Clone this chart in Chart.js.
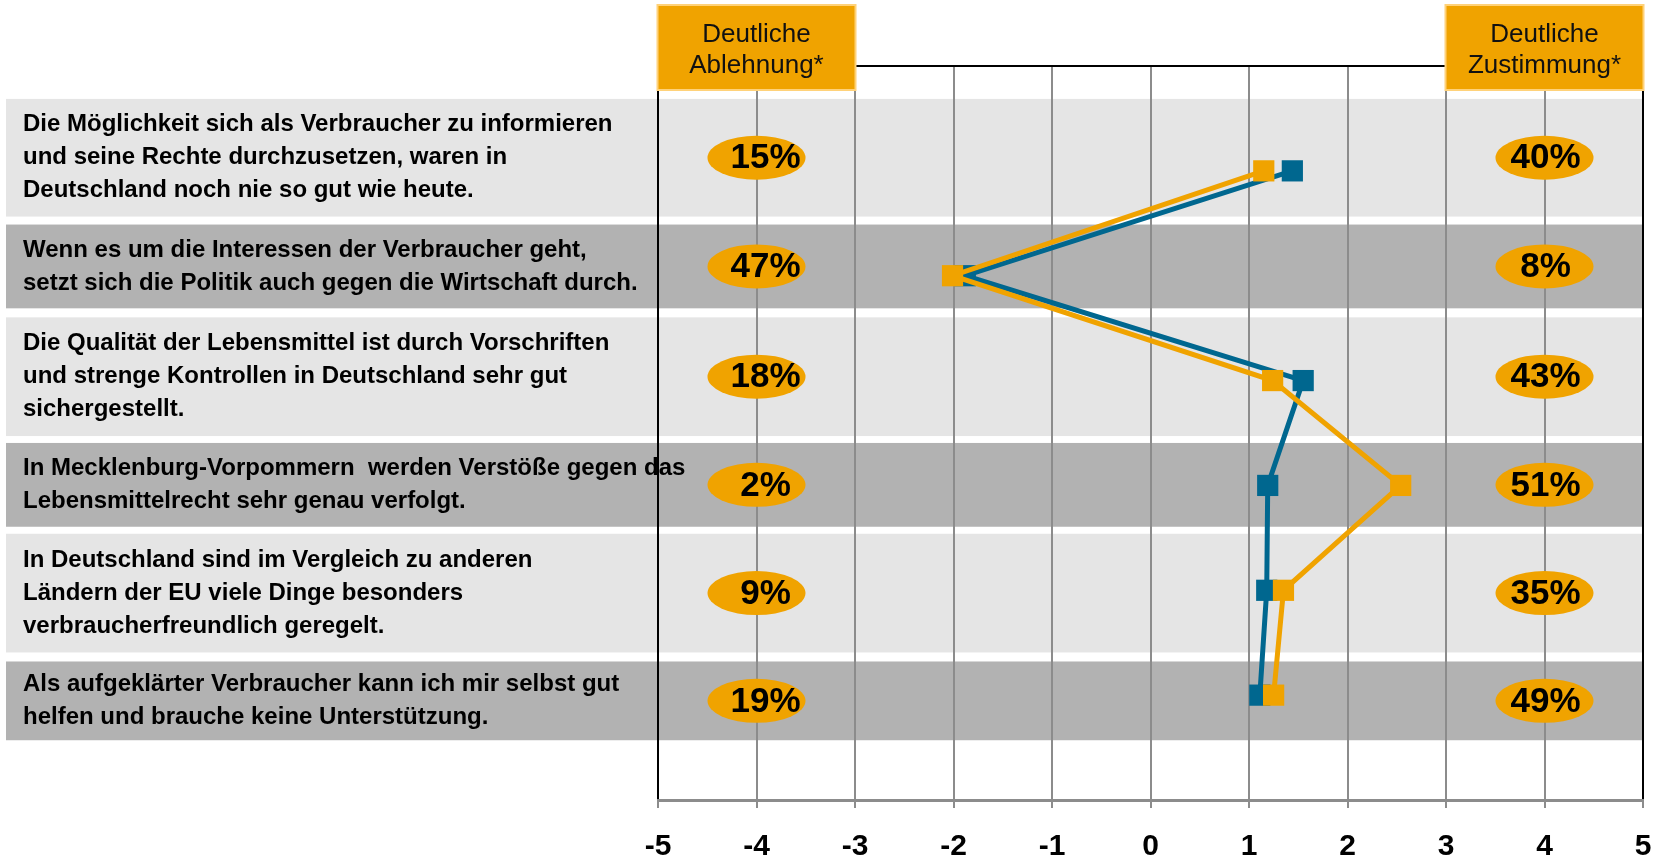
<!DOCTYPE html>
<html>
<head>
<meta charset="utf-8">
<script src="https://cdn.jsdelivr.net/npm/chart.js@4.4.1/dist/chart.umd.min.js"></script>
<style>
  html, body { margin: 0; padding: 0; background: #ffffff; }
  #wrap { width: 1662px; height: 861px; position: relative; }
</style>
</head>
<body>
<div id="wrap"><canvas id="c" width="1662" height="861"></canvas></div>
<script>
// Statements (one entry per row, split into the printed lines)
const statements = [
  ["Die Möglichkeit sich als Verbraucher zu informieren", "und seine Rechte durchzusetzen, waren in", "Deutschland noch nie so gut wie heute."],
  ["Wenn es um die Interessen der Verbraucher geht,", "setzt sich die Politik auch gegen die Wirtschaft durch."],
  ["Die Qualität der Lebensmittel ist durch Vorschriften", "und strenge Kontrollen in Deutschland sehr gut", "sichergestellt."],
  ["In Mecklenburg-Vorpommern  werden Verstöße gegen das", "Lebensmittelrecht sehr genau verfolgt."],
  ["In Deutschland sind im Vergleich zu anderen", "Ländern der EU viele Dinge besonders", "verbraucherfreundlich geregelt."],
  ["Als aufgeklärter Verbraucher kann ich mir selbst gut", "helfen und brauche keine Unterstützung."]
];

// Mean scores on the -5 .. 5 scale
const meanBlue   = [1.44, -1.88, 1.55, 1.19, 1.18, 1.11];
const meanOrange = [1.15, -2.01, 1.24, 2.54, 1.35, 1.25];

// Share of clear rejection / clear agreement (percent)
const rejectShare = [15, 47, 18, 2, 9, 19];
const agreeShare  = [40, 8, 43, 51, 35, 49];

// Axis ticks and the two column headers
const xTickValues = [-5, -4, -3, -2, -1, 0, 1, 2, 3, 4, 5];
const headerReject = ["Deutliche", "Ablehnung*"];
const headerAgree  = ["Deutliche", "Zustimmung*"];

// Layout: row band extents in y-scale units, header/bubble anchors on the x scale
const bandEdges = [[-0.686, 0.436], [0.512, 1.311], [1.397, 2.529], [2.595, 3.394], [3.461, 4.593], [4.679, 5.430]];
const rejectColumnX = -4;
const agreeColumnX = 4;

const FONT = '"Liberation Sans", Arial, Helvetica, sans-serif';
const BLUE = '#00678f';
const ORANGE = '#f0a300';

const rowDecor = {
  id: 'rowDecor',
  beforeDraw(chart) {
    const { ctx, chartArea, scales } = chart;
    const ys = scales.y;
    ctx.save();
    bandEdges.forEach((e, i) => {
      const top = ys.getPixelForValue(e[0]);
      const bot = ys.getPixelForValue(e[1]);
      ctx.fillStyle = i % 2 === 0 ? '#e5e5e5' : '#b2b2b2';
      ctx.fillRect(6, top, chartArea.right - 6, bot - top);
      // statement text
      ctx.fillStyle = '#000';
      ctx.font = 'bold 24px ' + FONT;
      ctx.textBaseline = 'middle';
      ctx.textAlign = 'left';
      const lines = statements[i];
      const lh = 33;
      const mid = (top + bot) / 2;
      lines.forEach((t, k) => {
        const y = mid + (k - (lines.length - 1) / 2) * lh;
        ctx.fillText(t, 23, y);
      });
    });
    ctx.restore();
  },
  afterDatasetsDraw(chart) {
    const { ctx, scales } = chart;
    const xs = scales.x, ys = scales.y;
    ctx.save();
    bandEdges.forEach((e, i) => {
      const cy = ys.getPixelForValue((e[0] + e[1]) / 2);
      [[rejectColumnX, rejectShare[i], 9], [agreeColumnX, agreeShare[i], 1]].forEach(([xv, pct, dx]) => {
        const cx = xs.getPixelForValue(xv);
        ctx.beginPath();
        ctx.ellipse(cx, cy, 49, 22, 0, 0, Math.PI * 2);
        ctx.fillStyle = ORANGE;
        ctx.fill();
        ctx.fillStyle = '#000';
        ctx.font = 'bold 35px ' + FONT;
        ctx.textAlign = 'center';
        ctx.textBaseline = 'middle';
        ctx.fillText(pct + '%', cx + dx, cy + 1);
      });
    });
    ctx.restore();
  },
  afterDraw(chart) {
    const { ctx, chartArea, scales } = chart;
    const xs = scales.x;
    ctx.save();
    // top frame line
    ctx.strokeStyle = '#000';
    ctx.lineWidth = 2;
    ctx.beginPath();
    ctx.moveTo(chartArea.left, chartArea.top);
    ctx.lineTo(chartArea.right, chartArea.top);
    ctx.stroke();
    // column headers
    [[rejectColumnX, headerReject], [agreeColumnX, headerAgree]].forEach(([xv, lines]) => {
      const cx = xs.getPixelForValue(xv);
      const w = 198, top = 5, h = 85;
      ctx.fillStyle = ORANGE;
      ctx.fillRect(cx - w / 2, top, w, h);
      ctx.strokeStyle = '#ffd27a';
      ctx.lineWidth = 2;
      ctx.strokeRect(cx - w / 2, top, w, h);
      ctx.fillStyle = '#111';
      ctx.font = '26px ' + FONT;
      ctx.textAlign = 'center';
      ctx.textBaseline = 'middle';
      ctx.fillText(lines[0], cx, 35);
      ctx.fillText(lines[1], cx, 66);
    });
    ctx.restore();
  }
};

const toPoints = vals => vals.map((v, i) => ({ x: v, y: i }));

new Chart(document.getElementById('c'), {
  type: 'scatter',
  data: {
    datasets: [
      {
        label: 'Reihe 2',
        data: toPoints(meanOrange),
        showLine: true,
        borderColor: ORANGE,
        backgroundColor: ORANGE,
        borderWidth: 5,
        pointStyle: 'rect',
        pointRadius: 15,
        pointHoverRadius: 15,
        pointBorderWidth: 0,
        order: 0
      },
      {
        label: 'Reihe 1',
        data: toPoints(meanBlue),
        showLine: true,
        borderColor: BLUE,
        backgroundColor: BLUE,
        borderWidth: 5,
        pointStyle: 'rect',
        pointRadius: 15,
        pointHoverRadius: 15,
        pointBorderWidth: 0,
        order: 1
      }
    ]
  },
  options: {
    responsive: false,
    animation: false,
    devicePixelRatio: 1,
    layout: { padding: { left: 658, right: 19, top: 66, bottom: 0 } },
    plugins: { legend: { display: false }, tooltip: { enabled: false } },
    scales: {
      x: {
        type: 'linear',
        min: -5,
        max: 5,
        afterBuildTicks: s => { s.ticks = xTickValues.map(v => ({ value: v })); },
        afterFit: s => { s.height = 61; s.paddingLeft = 0; s.paddingRight = 0; },
        ticks: {
          color: '#000',
          padding: 21,
          font: { family: FONT, size: 30, weight: 'bold' },
          maxRotation: 0
        },
        grid: {
          color: c => (c.tick && (c.tick.value === -5 || c.tick.value === 5)) ? '#000' : '#8c8c8c',
          tickColor: '#8c8c8c',
          lineWidth: 2,
          tickLength: 8
        },
        border: { display: true, color: '#8c8c8c', width: 3 }
      },
      y: {
        type: 'linear',
        display: false,
        reverse: true,
        min: -1,
        max: 6
      }
    }
  },
  plugins: [rowDecor]
});
</script>
</body>
</html>
